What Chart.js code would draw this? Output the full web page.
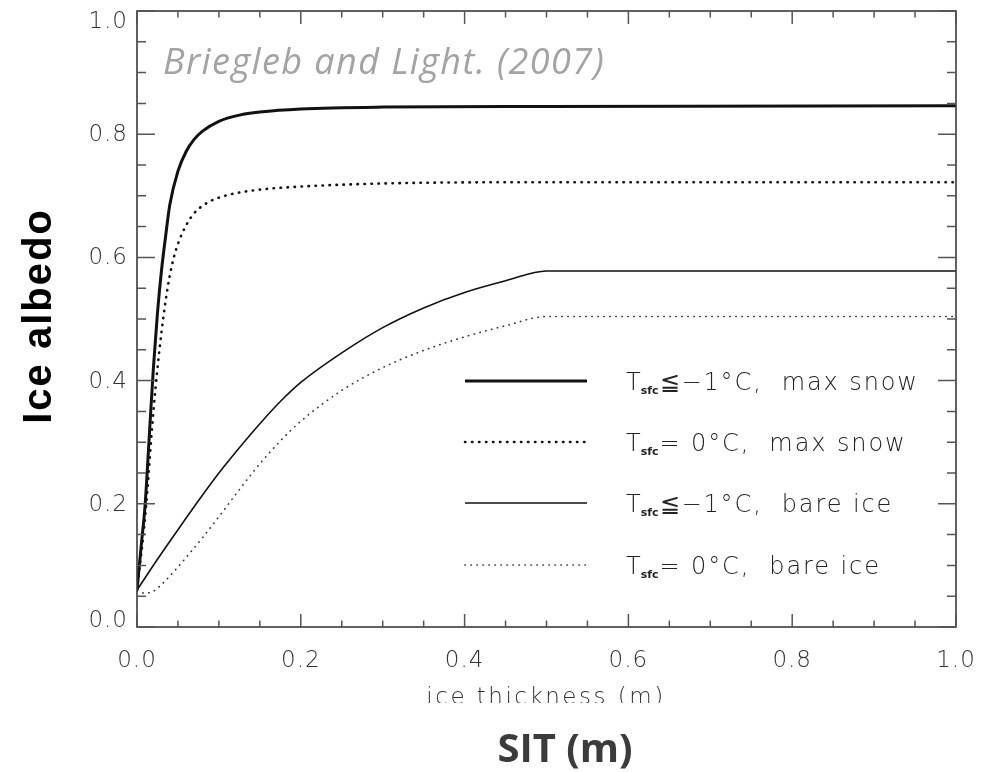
<!DOCTYPE html>
<html>
<head>
<meta charset="utf-8">
<script src="https://cdn.jsdelivr.net/npm/chart.js@4.4.1/dist/chart.umd.min.js"></script>
<style>
  html, body { margin: 0; padding: 0; background: #fff; }
  #wrap { width: 981px; height: 772px; }
</style>
</head>
<body>
<div id="wrap"><canvas id="albedo-chart" width="981" height="772"></canvas></div>
<script>
// ice thickness (m) and albedo
const snowColdX = [0, 0.005, 0.01, 0.015, 0.02, 0.025, 0.03, 0.035, 0.04, 0.05, 0.06, 0.07, 0.08, 0.1, 0.125, 0.15, 0.2, 0.3, 0.5, 1.0];
const snowColdY = [0.06, 0.13, 0.2, 0.31, 0.42, 0.51, 0.58, 0.635, 0.685, 0.74, 0.772, 0.792, 0.805, 0.821, 0.831, 0.836, 0.841, 0.844, 0.845, 0.846];

const snowMeltX = [0, 0.01, 0.02, 0.025, 0.03, 0.035, 0.04, 0.045, 0.05, 0.06, 0.07, 0.085, 0.1, 0.12, 0.15, 0.2, 0.3, 0.5, 1.0];
const snowMeltY = [0.06, 0.18, 0.35, 0.42, 0.48, 0.53, 0.57, 0.6, 0.622, 0.652, 0.672, 0.688, 0.697, 0.704, 0.71, 0.715, 0.72, 0.722, 0.722];

const bareColdX = [0, 0.025, 0.05, 0.075, 0.1, 0.125, 0.15, 0.175, 0.2, 0.25, 0.3, 0.35, 0.4, 0.45, 0.5, 1.0];
const bareColdY = [0.06, 0.11, 0.158, 0.205, 0.25, 0.291, 0.33, 0.366, 0.397, 0.445, 0.486, 0.518, 0.543, 0.562, 0.578, 0.578];

const bareMeltX = [0, 0.01, 0.02, 0.03, 0.045, 0.06, 0.08, 0.1, 0.125, 0.15, 0.175, 0.2, 0.25, 0.3, 0.35, 0.4, 0.45, 0.5, 1.0];
const bareMeltY = [0.058, 0.055, 0.058, 0.069, 0.09, 0.113, 0.145, 0.179, 0.223, 0.265, 0.302, 0.334, 0.384, 0.421, 0.449, 0.471, 0.489, 0.504, 0.504];

const xTickLabels = ["0.0", "0.2", "0.4", "0.6", "0.8", "1.0"];
const yTickLabels = ["0.0", "0.2", "0.4", "0.6", "0.8", "1.0"];
const legendTail = ["\u2266\u22121\u00b0C,  max snow", "= 0\u00b0C,  max snow", "\u2266\u22121\u00b0C,  bare ice", "= 0\u00b0C,  bare ice"];

const ink = "#111";
const axisInk = "#3a3a3a";
const labelFont = "200 23px 'DejaVu Sans'";

function pts(xs, ys) {
  return xs.map((x, i) => ({ x, y: ys[i] }));
}

const datasets = [
  { label: "snowCold", data: pts(snowColdX, snowColdY), borderColor: ink, borderWidth: 3, borderDash: [] },
  { label: "snowMelt", data: pts(snowMeltX, snowMeltY), borderColor: ink, borderWidth: 2.6, borderDash: [0.4, 6.6], borderCapStyle: "round" },
  { label: "bareCold", data: pts(bareColdX, bareColdY), borderColor: ink, borderWidth: 1.6, borderDash: [] },
  { label: "bareMelt", data: pts(bareMeltX, bareMeltY), borderColor: "#333", borderWidth: 1.6, borderDash: [0.4, 5.6], borderCapStyle: "round" }
];

/* -----------------------------------------------
   Frame, inward ticks, labels, legend, titles
------------------------------------------------ */
const decorations = {
  id: "decorations",
  afterDraw(chart) {
    const ctx = chart.ctx;
    const area = chart.chartArea;
    const xs = chart.scales.x;
    const ys = chart.scales.y;

    ctx.save();

    // box
    ctx.strokeStyle = axisInk;
    ctx.lineWidth = 1.6;
    ctx.strokeRect(area.left, area.top, area.right - area.left, area.bottom - area.top);

    // ticks every 0.05, major every 0.2
    ctx.lineWidth = 1.5;
    ctx.strokeStyle = "#555";
    for (let i = 0; i <= 20; i++) {
      const v = i * 0.05;
      const major = i % 4 === 0;
      const px = xs.getPixelForValue(v);
      const py = ys.getPixelForValue(v);
      const lx = major ? 13 : 6.5;
      const ly = major ? 18 : 9;
      ctx.beginPath();
      ctx.moveTo(px, area.bottom); ctx.lineTo(px, area.bottom - lx);
      ctx.moveTo(px, area.top); ctx.lineTo(px, area.top + lx);
      ctx.moveTo(area.left, py); ctx.lineTo(area.left + ly, py);
      ctx.moveTo(area.right, py); ctx.lineTo(area.right - ly, py);
      ctx.stroke();
    }

    // tick labels
    ctx.fillStyle = "#333";
    ctx.font = labelFont;
    ctx.letterSpacing = "1px";
    ctx.textAlign = "center";
    ctx.textBaseline = "middle";
    xTickLabels.forEach(t => {
      ctx.fillText(t, xs.getPixelForValue(Number(t)), 661);
    });
    ctx.textAlign = "right";
    yTickLabels.forEach(t => {
      let py = ys.getPixelForValue(Number(t));
      py = Math.min(Math.max(py, area.top + 10), area.bottom - 7);
      ctx.fillText(t, 128, py + 1);
    });

    // IDL axis title, cut off at the bottom as in the figure
    ctx.save();
    ctx.beginPath();
    ctx.rect(0, 672, 981, 31);
    ctx.clip();
    ctx.textAlign = "center";
    ctx.textBaseline = "alphabetic";
    ctx.letterSpacing = "2.5px";
    ctx.fillText("ice thickness (m)", 546, 704);
    ctx.restore();

    // legend
    const rows = [381, 442, 503, 565];
    chart.data.datasets.forEach((ds, i) => {
      const y = rows[i];
      ctx.beginPath();
      ctx.strokeStyle = ds.borderColor;
      ctx.lineWidth = ds.borderWidth;
      ctx.setLineDash(ds.borderDash || []);
      ctx.lineCap = ds.borderCapStyle || "butt";
      ctx.moveTo(465, y);
      ctx.lineTo(587, y);
      ctx.stroke();
      ctx.setLineDash([]);
      ctx.lineCap = "butt";

      ctx.fillStyle = "#222";
      ctx.textAlign = "left";
      ctx.textBaseline = "alphabetic";
      ctx.letterSpacing = "1px";
      ctx.font = "200 24px 'DejaVu Sans'";
      ctx.fillText("T", 626, y + 9);
      const tw = ctx.measureText("T").width;
      ctx.font = "bold 11px 'DejaVu Sans'";
      ctx.letterSpacing = "0px";
      ctx.fillText("sfc", 626 + tw - 1, y + 13);
      const sw = ctx.measureText("sfc").width;
      ctx.font = "200 24px 'DejaVu Sans'";
      ctx.letterSpacing = "1.9px";
      ctx.fillText(legendTail[i], 626 + tw + sw, y + 9);
    });

    // annotation
    ctx.letterSpacing = "1.4px";
    ctx.fillStyle = "#a3a3a3";
    ctx.font = "italic 36px 'Open Sans'";
    ctx.textAlign = "left";
    ctx.fillText("Briegleb and Light. (2007)", 163, 74);

    // outer axis titles
    ctx.letterSpacing = "0px";
    ctx.fillStyle = "#3b3b3b";
    ctx.font = "bold 40px 'Open Sans'";
    ctx.textAlign = "center";
    ctx.fillText("SIT (m)", 565, 762);

    ctx.save();
    ctx.translate(51, 316);
    ctx.rotate(-Math.PI / 2);
    ctx.fillStyle = "#000";
    ctx.font = "bold 40px 'Liberation Sans'";
    ctx.letterSpacing = "2px";
    ctx.textAlign = "center";
    ctx.fillText("Ice albedo", 0, 0);
    ctx.restore();

    ctx.restore();
  }
};

new Chart(document.getElementById("albedo-chart"), {
  type: "line",
  data: { datasets },
  options: {
    responsive: false,
    animation: false,
    events: [],
    layout: { padding: { left: 137, right: 25, top: 11, bottom: 145 } },
    elements: {
      point: { radius: 0 },
      line: { cubicInterpolationMode: "monotone", fill: false }
    },
    plugins: { legend: { display: false }, tooltip: { enabled: false } },
    scales: {
      x: { type: "linear", min: 0, max: 1, display: false },
      y: { type: "linear", min: 0, max: 1, display: false }
    }
  },
  plugins: [decorations]
});
</script>
</body>
</html>
